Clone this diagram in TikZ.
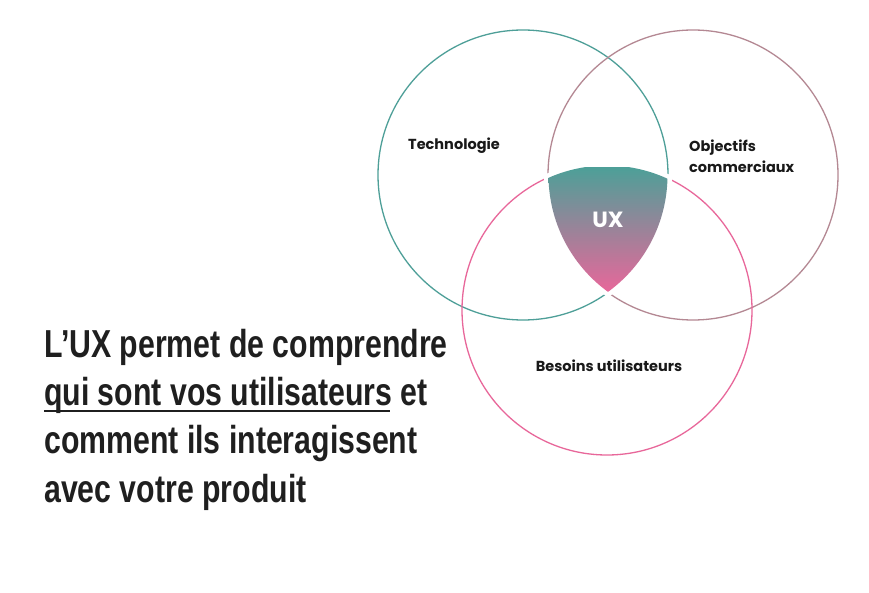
\documentclass[tikz,border=0pt]{standalone}
\usepackage{fontspec}
\setmainfont{Liberation Sans}
\newfontfamily\pop{Poppins}
\begin{document}
\begin{tikzpicture}[x=1pt,y=-1pt,
  lab/.style={font=\pop\bfseries\fontsize{14.5}{21}\selectfont, text=black!90, align=left, inner sep=0},
  big/.style={font=\bfseries\fontsize{39}{47}\selectfont, text=black!88, anchor=base west, inner sep=0}]
\definecolor{teal1}{HTML}{4E9F98}
\definecolor{mauve}{HTML}{B48893}
\definecolor{pinkc}{HTML}{E8679A}
\useasboundingbox (0,0) rectangle (869,593);
\fill[white] (0,0) rectangle (869,593);
\coordinate (ct) at (523,175);
\coordinate (cm) at (693,175);
\coordinate (cp) at (607,310);
\draw[teal1, line width=1.3] (ct) circle (145);
\draw[mauve, line width=1.3] (cm) circle (145);
\draw[pinkc, line width=1.3] (cp) circle (145);
\begin{scope}
\clip (ct) circle (149);
\clip (cm) circle (149);
\clip (cp) circle (149);
\fill[white] (530,150) rectangle (690,310);
\end{scope}
\begin{scope}
\clip (ct) circle (144.5);
\clip (cm) circle (144.5);
\clip (cp) circle (144.5);
\shade[top color=teal1, bottom color=pinkc] (540,168) rectangle (680,292);
\end{scope}
\node[text=white, font=\pop\bfseries\fontsize{22}{26}\selectfont] (ux) at (608,220) {UX};
\node[lab] (tech) at (454,146) {Technologie};
\node[lab, anchor=west] (obj) at (689,156) {Objectifs\\commerciaux};
\node[lab] (bes) at (609,366) {Besoins utilisateurs};
\node[big] (l1) at (44,357) {\scalebox{0.776}[1]{L’UX permet de comprendre}};
\node[big] (l2) at (44,405) {\scalebox{0.776}[1]{qui sont vos utilisateurs et}};
\node[big] (l3) at (44,453) {\scalebox{0.776}[1]{comment ils interagissent}};
\node[big] (l4) at (44,502) {\scalebox{0.776}[1]{avec votre produit}};
\coordinate (u1) at (44,411);
\coordinate (u2) at (390,411);
\draw[black!88, line width=1.6] (u1) -- (u2);
\end{tikzpicture}
\end{document}
